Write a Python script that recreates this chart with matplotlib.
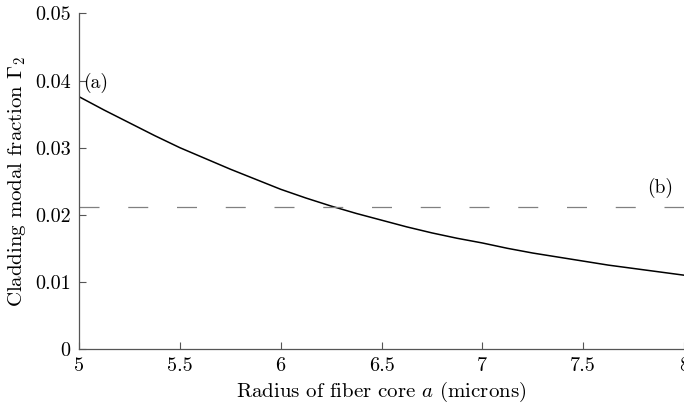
"""
Cladding modal fraction vs fiber core radius.
Output: out.png
"""
import matplotlib.pyplot as plt

radius = [5.0, 5.125, 5.25, 5.375, 5.5, 5.625, 5.75, 5.875, 6.0, 6.125,
          6.25, 6.375, 6.5, 6.625, 6.75, 6.875, 7.0, 7.125, 7.25, 7.375,
          7.5, 7.625, 7.75, 7.875, 8.0]
gamma2 = [0.0376, 0.0356, 0.0337, 0.0318, 0.0300, 0.0284, 0.0268, 0.0253,
          0.0238, 0.0225, 0.0213, 0.0202, 0.0192, 0.0182, 0.0173, 0.0165,
          0.0158, 0.0150, 0.0143, 0.0137, 0.0131, 0.0125, 0.0120, 0.0115,
          0.0110]
ref_level = 0.0212

xticks = [5, 5.5, 6, 6.5, 7, 7.5, 8]
xticklabels = ["5", "5.5", "6", "6.5", "7", "7.5", "8"]
yticks = [0, 0.01, 0.02, 0.03, 0.04, 0.05]
yticklabels = ["0", "0.01", "0.02", "0.03", "0.04", "0.05"]


def main():
    plt.rcParams["font.family"] = ["cmr10", "DejaVu Serif"]
    plt.rcParams["mathtext.fontset"] = "cm"
    plt.rcParams["axes.unicode_minus"] = False

    fig = plt.figure(figsize=(6.84, 4.08), dpi=100)
    ax = fig.add_axes([0.1155, 0.1446, 0.8845, 0.8224])

    ax.plot(radius, gamma2, color="black", lw=1.1)
    ax.plot([radius[0], radius[-1]], [ref_level, ref_level], color="#808080",
            lw=0.9, dashes=(16, 23))

    ax.text(5.02, 0.0397, "(a)", fontsize=14, va="center", ha="left")
    ax.text(7.88, 0.0240, "(b)", fontsize=14, va="center", ha="center")

    ax.set_xlim(5, 8)
    ax.set_ylim(0, 0.05)
    ax.set_xticks(xticks)
    ax.set_xticklabels(xticklabels)
    ax.set_yticks(yticks)
    ax.set_yticklabels(yticklabels)
    ax.tick_params(direction="in", labelsize=14.5, color="#555555", length=5,
                   pad=6)

    for side in ["top", "right"]:
        ax.spines[side].set_visible(False)
    for side in ["left", "bottom"]:
        ax.spines[side].set_color("#555555")
        ax.spines[side].set_linewidth(0.9)

    ax.set_xlabel("Radius of fiber core $a$ (microns)", fontsize=15, labelpad=3)
    ax.set_ylabel(r"Cladding modal fraction $\Gamma_2$", fontsize=15)
    ax.yaxis.set_label_coords(-0.084, 0.5)

    fig.savefig("out.png", dpi=100)
    plt.close()


if __name__ == "__main__":
    main()
